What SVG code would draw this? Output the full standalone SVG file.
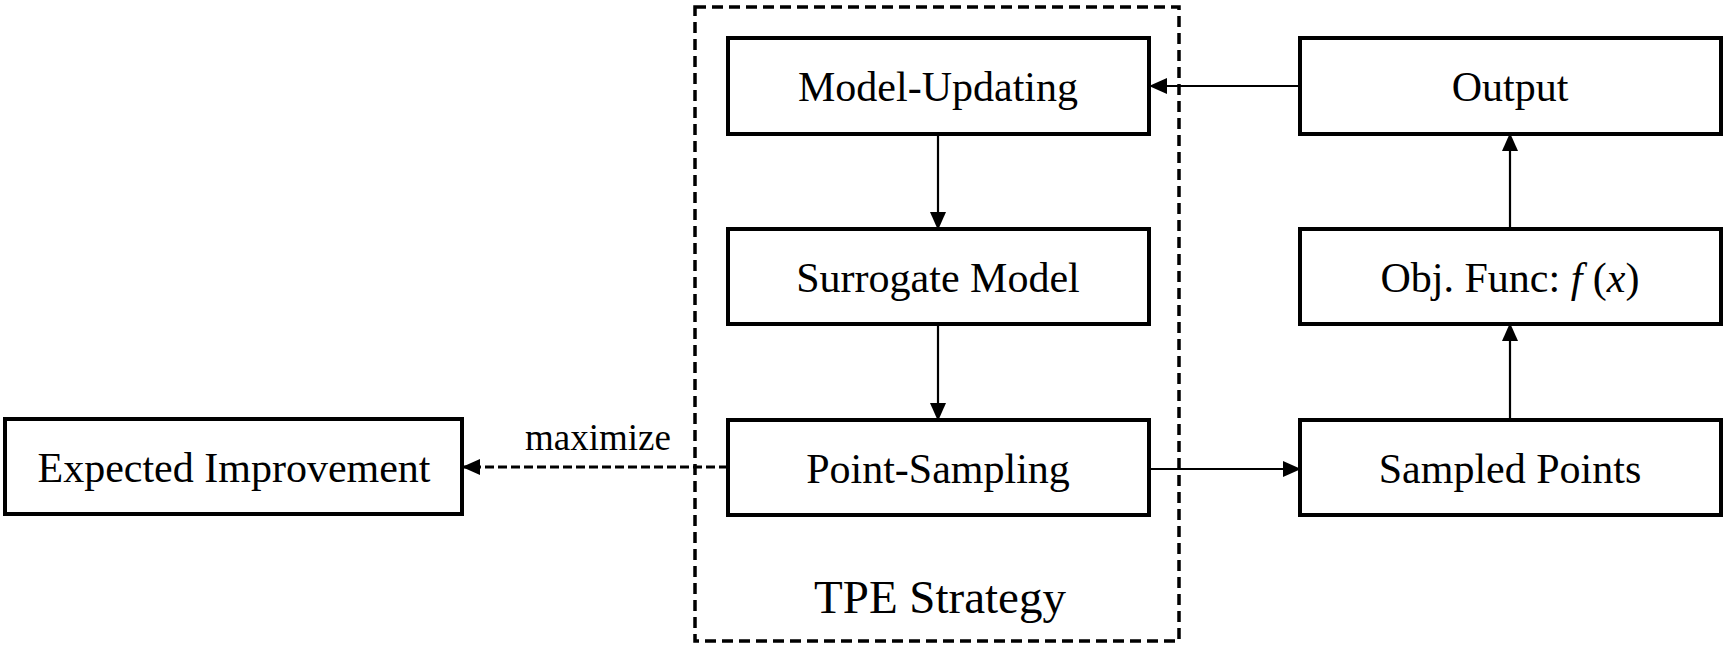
<svg xmlns="http://www.w3.org/2000/svg" width="1726" height="647" viewBox="0 0 1726 647">
<style>
.box{fill:#fff;stroke:#000;stroke-width:4}
.lbl{font-family:"Liberation Serif","Times New Roman",serif;font-size:42px;fill:#000;text-anchor:middle}
.ln{stroke:#000;stroke-width:2.2;fill:none}
.dash{stroke:#000;stroke-width:2.8;fill:none;stroke-dasharray:9 4}
</style>
<defs>
<marker id="ah" markerUnits="userSpaceOnUse" markerWidth="18" markerHeight="16" viewBox="0 0 18 16" refX="17" refY="8" orient="auto">
<path d="M0,0 L18,8 L0,16 Z" fill="#000"/>
</marker>
</defs>
<g id="tpe-group">
<rect x="695" y="7" width="484" height="634" fill="none" stroke="#000" stroke-width="3.5" stroke-dasharray="11 6"/>
<text class="lbl" x="940" y="613" style="font-size:47px">TPE Strategy</text>
</g>
<g id="connectors">
<line class="ln" x1="938" y1="134" x2="938" y2="229" marker-end="url(#ah)"/>
<line class="ln" x1="938" y1="324" x2="938" y2="420" marker-end="url(#ah)"/>
<line class="ln" x1="1300" y1="86" x2="1150" y2="86" marker-end="url(#ah)"/>
<line class="ln" x1="1510" y1="229" x2="1510" y2="134" marker-end="url(#ah)"/>
<line class="ln" x1="1510" y1="420" x2="1510" y2="324" marker-end="url(#ah)"/>
<line class="ln" x1="1149" y1="469" x2="1300" y2="469" marker-end="url(#ah)"/>
<line class="dash" x1="728" y1="467" x2="463" y2="467" marker-end="url(#ah)"/>
<text class="lbl" x="598" y="450" style="font-size:37px">maximize</text>
</g>
<g id="model-updating">
<rect class="box" x="728" y="38" width="421" height="96"/>
<text class="lbl" x="938" y="101">Model-Updating</text>
</g>
<g id="surrogate-model">
<rect class="box" x="728" y="229" width="421" height="95"/>
<text class="lbl" x="938" y="292">Surrogate Model</text>
</g>
<g id="point-sampling">
<rect class="box" x="728" y="420" width="421" height="95"/>
<text class="lbl" x="938" y="483">Point-Sampling</text>
</g>
<g id="expected-improvement">
<rect class="box" x="5" y="419" width="457" height="95"/>
<text class="lbl" x="234" y="482">Expected Improvement</text>
</g>
<g id="output">
<rect class="box" x="1300" y="38" width="421" height="96"/>
<text class="lbl" x="1510" y="101">Output</text>
</g>
<g id="obj-func">
<rect class="box" x="1300" y="229" width="421" height="95"/>
<text class="lbl" x="1510" y="292">Obj. Func: <tspan font-style="italic">f</tspan> (<tspan font-style="italic">x</tspan>)</text>
</g>
<g id="sampled-points">
<rect class="box" x="1300" y="420" width="421" height="95"/>
<text class="lbl" x="1510" y="483">Sampled Points</text>
</g>
</svg>
